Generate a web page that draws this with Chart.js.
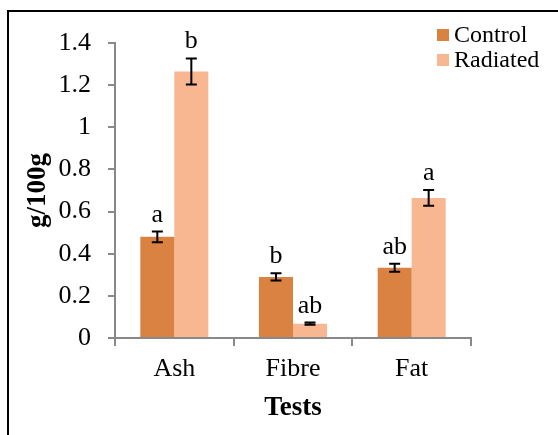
<!DOCTYPE html>
<html>
<head>
<meta charset="utf-8">
<script src="https://cdn.jsdelivr.net/npm/chart.js@4.4.1/dist/chart.umd.min.js"></script>
<style>
  html, body { margin: 0; padding: 0; background: #fff; }
  canvas { display: block; }
</style>
</head>
<body>
<canvas id="grafico" width="558" height="435"></canvas>
<script>
// Dados
const categorias = ['Ash', 'Fibre', 'Fat'];
const seriesNomes = ['Control', 'Radiated'];
const controle = [0.48, 0.29, 0.333];
const irradiado = [1.265, 0.068, 0.665];
const erroControle = [0.025, 0.017, 0.019];
const erroIrradiado = [0.062, 0.005, 0.037];
const letrasControle = ['a', 'b', 'ab'];
const letrasIrradiado = ['b', 'ab', 'a'];
const yTickLabels = ['0', '0.2', '0.4', '0.6', '0.8', '1', '1.2', '1.4'];

const cores = {
  controle: '#D98241',
  irradiado: '#F8B691',
  eixo: '#898989'
};

const fonte = 'Liberation Serif, Times New Roman, serif';

// Moldura, barras de erro, letras e legenda
const extras = {
  id: 'extras',
  beforeDraw(chart) {
    const ctx = chart.ctx;
    ctx.save();
    ctx.fillStyle = '#000';
    ctx.fillRect(7, 10, 2, 430);
    ctx.fillRect(7, 10, 560, 2);
    ctx.restore();
  },
  afterDatasetsDraw(chart) {
    const ctx = chart.ctx;
    const y = chart.scales.y;
    const erros = [erroControle, erroIrradiado];
    const letras = [letrasControle, letrasIrradiado];
    ctx.save();
    chart.data.datasets.forEach((ds, i) => {
      const meta = chart.getDatasetMeta(i);
      meta.data.forEach((bar, j) => {
        const v = ds.data[j];
        const e = erros[i][j];
        const yTop = y.getPixelForValue(v + e);
        const yBot = y.getPixelForValue(v - e);
        ctx.strokeStyle = '#000';
        ctx.lineWidth = 2;
        ctx.beginPath();
        ctx.moveTo(bar.x, yTop);
        ctx.lineTo(bar.x, yBot);
        ctx.moveTo(bar.x - 5.5, yTop);
        ctx.lineTo(bar.x + 5.5, yTop);
        ctx.moveTo(bar.x - 5.5, yBot);
        ctx.lineTo(bar.x + 5.5, yBot);
        ctx.stroke();

        ctx.fillStyle = '#000';
        ctx.font = '26px ' + fonte;
        ctx.textAlign = 'center';
        ctx.textBaseline = 'alphabetic';
        ctx.fillText(letras[i][j], bar.x, yTop - 10);
      });
    });
    ctx.restore();
  },
  afterDraw(chart) {
    const ctx = chart.ctx;
    ctx.save();
    ctx.font = '24px ' + fonte;
    ctx.textBaseline = 'middle';
    ctx.textAlign = 'left';
    chart.data.datasets.forEach((ds, i) => {
      const yy = 35 + i * 25;
      ctx.fillStyle = ds.backgroundColor;
      ctx.fillRect(437, yy - 6, 12, 12);
      ctx.fillStyle = '#000';
      ctx.fillText(ds.label, 454, yy + 1);
    });
    ctx.restore();
  }
};

new Chart(document.getElementById('grafico'), {
  type: 'bar',
  data: {
    labels: categorias,
    datasets: [
      { label: seriesNomes[0], data: controle, backgroundColor: cores.controle },
      { label: seriesNomes[1], data: irradiado, backgroundColor: cores.irradiado }
    ]
  },
  options: {
    responsive: false,
    animation: false,
    layout: { padding: { left: 0, top: 43, right: 87, bottom: 0 } },
    datasets: { bar: { categoryPercentage: 0.573, barPercentage: 1 } },
    plugins: {
      legend: { display: false },
      tooltip: { enabled: false }
    },
    scales: {
      x: {
        afterFit(scale) { scale.height = 97; },
        grid: {
          offset: true,
          drawOnChartArea: false,
          tickLength: 8,
          color: cores.eixo,
          lineWidth: 2
        },
        border: { color: cores.eixo, width: 2 },
        ticks: {
          padding: 8,
          color: '#000',
          font: { family: fonte, size: 26 }
        },
        title: {
          display: true,
          text: 'Tests',
          color: '#000',
          padding: { top: 0, bottom: 11 },
          font: { family: fonte, size: 27, weight: 'bold' }
        }
      },
      y: {
        min: 0,
        max: 1.4,
        afterFit(scale) { scale.width = 115; },
        grid: {
          drawOnChartArea: false,
          tickLength: 7,
          color: cores.eixo,
          lineWidth: 2
        },
        border: { color: cores.eixo, width: 2 },
        ticks: {
          stepSize: 0.2,
          padding: 17,
          color: '#000',
          font: { family: fonte, size: 26 },
          callback: (v, i) => yTickLabels[i]
        },
        title: {
          display: true,
          text: 'g/100g',
          color: '#000',
          padding: { top: 22, bottom: 0 },
          font: { family: fonte, size: 27, weight: 'bold' }
        }
      }
    }
  },
  plugins: [extras]
});
</script>
</body>
</html>
